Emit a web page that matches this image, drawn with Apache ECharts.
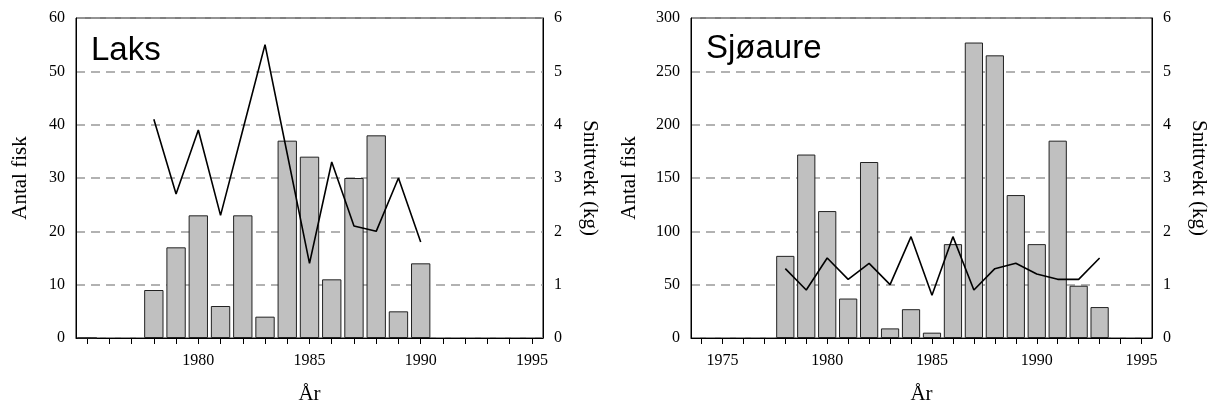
<!DOCTYPE html>
<html>
<head>
<meta charset="utf-8">
<script src="https://cdn.jsdelivr.net/npm/echarts@6/dist/echarts.min.js"></script>
<style>
html,body{margin:0;padding:0;background:#fff;}
#c{width:1209px;height:403px;}
</style>
</head>
<body>
<div id="c"></div>
<script>
// Laks (salmon)
const laksCategories = ['1975','1976','1977','1978','1979','1980','1981','1982','1983','1984','1985','1986','1987','1988','1989','1990','1991','1992','1993','1994','1995'];
const laksBarYears = [1975,1978,1979,1980,1981,1982,1983,1984,1985,1986,1987,1988,1989,1990];
const laksCounts   = [0,   9,   17,  23,  6,   23,  4,   37,  34,  11,  30,  38,  5,   14];
const laksLineYears = [1978,1979,1980,1981,1982,1983,1984,1985,1986,1987,1988,1989,1990];
const laksWeights   = [4.1, 2.7, 3.9, 2.3, 3.9, 5.5, 3.45,1.4, 3.3, 2.1, 2.0, 3.0, 1.8];

// Sjøaure (sea trout)
const sjoCategories = ['1974','1975','1976','1977','1978','1979','1980','1981','1982','1983','1984','1985','1986','1987','1988','1989','1990','1991','1992','1993','1994','1995'];
const sjoYears   = [1978,1979,1980,1981,1982,1983,1984,1985,1986,1987,1988,1989,1990,1991,1992,1993];
const sjoCounts  = [77,  172, 119, 37,  165, 9,   27,  5,   88,  277, 265, 134, 88,  185, 49,  29];
const sjoWeights = [1.3, 0.9, 1.5, 1.1, 1.4, 1.0, 1.9, 0.8, 1.9, 0.9, 1.3, 1.4, 1.2, 1.1, 1.1, 1.5];

const leftTicks = [0,10,20,30,40,50,60];
const leftTicks2 = [0,50,100,150,200,250,300];
const rightTicks = [0,1,2,3,4,5,6];

function toCat(cats, years, vals) {
  return cats.map(c => { const i = years.indexOf(+c); return i >= 0 ? vals[i] : null; });
}

const serif = 'Liberation Serif, Times New Roman, serif';
const sans = 'Liberation Sans, Arial, sans-serif';

function xAxisCfg(gridIndex, cats, showFn) {
  return {
    type: 'category', gridIndex, data: cats, boundaryGap: true,
    name: 'År', nameLocation: 'middle', nameGap: 46,
    nameTextStyle: {fontFamily: serif, fontSize: 21, color: '#000'},
    axisLine: {show: true, lineStyle: {color: '#000', width: 1}},
    axisTick: {show: true, interval: 0, alignWithLabel: true, length: 6, inside: false, lineStyle: {color: '#000'}},
    axisLabel: {interval: (i, v) => showFn(v), margin: 15, fontFamily: serif, fontSize: 16, color: '#000'},
    splitLine: {show: false}
  };
}
function yLeftCfg(gridIndex, ticks, gap) {
  return {
    type: 'value', gridIndex, min: ticks[0], max: ticks[ticks.length-1], interval: ticks[1]-ticks[0],
    name: 'Antal fisk', nameLocation: 'middle', nameRotate: 90, nameGap: gap,
    nameTextStyle: {fontFamily: serif, fontSize: 21, color: '#000'},
    axisLine: {show: true, lineStyle: {color: '#000', width: 1}},
    axisTick: {show: false},
    axisLabel: {margin: 11, fontFamily: serif, fontSize: 16, color: '#000'},
    splitLine: {show: true, lineStyle: {color: '#999', width: 1.5, type: [9, 6]}}
  };
}
function yRightCfg(gridIndex) {
  return {
    type: 'value', gridIndex, position: 'right', min: rightTicks[0], max: rightTicks[rightTicks.length-1], interval: 1,
    name: 'Snittvekt (kg)', nameLocation: 'middle', nameRotate: -90, nameGap: 36,
    nameTextStyle: {fontFamily: serif, fontSize: 21, color: '#000'},
    axisLine: {show: true, lineStyle: {color: '#000', width: 1}},
    axisTick: {show: false},
    axisLabel: {margin: 11, fontFamily: serif, fontSize: 16, color: '#000'},
    splitLine: {show: false}
  };
}
const barStyle = {color: '#c0c0c0', borderColor: '#222', borderWidth: 1};
const lineStyle = {color: '#000', width: 1.6};

const chart = echarts.init(document.getElementById('c'), null, {renderer: 'canvas'});
chart.setOption({
  animation: false,
  backgroundColor: '#fff',
  grid: [
    {left: 76, top: 18, width: 467, height: 320, containLabel: false, outerBoundsMode: 'none', show: true, borderColor: '#000', borderWidth: 1, backgroundColor: 'transparent'},
    {left: 691, top: 18, width: 461, height: 320, containLabel: false, outerBoundsMode: 'none', show: true, borderColor: '#000', borderWidth: 1, backgroundColor: 'transparent'}
  ],
  xAxis: [
    xAxisCfg(0, laksCategories, v => (+v % 5 === 0) && v !== '1975'),
    xAxisCfg(1, sjoCategories, v => +v % 5 === 0)
  ],
  yAxis: [
    yLeftCfg(0, leftTicks, 45),
    yRightCfg(0),
    yLeftCfg(1, leftTicks2, 51),
    yRightCfg(1)
  ],
  graphic: [
    {type: 'text', left: 91, top: 34, style: {text: 'Laks', font: '33px ' + sans, fill: '#000'}},
    {type: 'text', left: 706, top: 32, style: {text: 'Sjøaure', font: '33px ' + sans, fill: '#000'}}
  ],
  series: [
    {type: 'bar', xAxisIndex: 0, yAxisIndex: 0, data: toCat(laksCategories, laksBarYears, laksCounts), barWidth: '87%', itemStyle: barStyle},
    {type: 'line', xAxisIndex: 0, yAxisIndex: 1, data: toCat(laksCategories, laksLineYears, laksWeights), symbol: 'none', lineStyle: lineStyle, z: 5},
    {type: 'bar', xAxisIndex: 1, yAxisIndex: 2, data: toCat(sjoCategories, sjoYears, sjoCounts), barWidth: '87%', itemStyle: barStyle},
    {type: 'line', xAxisIndex: 1, yAxisIndex: 3, data: toCat(sjoCategories, sjoYears, sjoWeights), symbol: 'none', lineStyle: lineStyle, z: 5}
  ]
});
</script>
</body>
</html>
